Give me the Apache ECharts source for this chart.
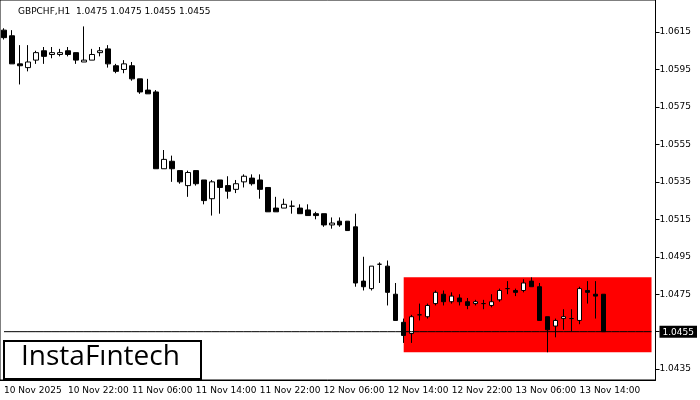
<!DOCTYPE html>
<html><head><meta charset="utf-8">
<script src="https://cdn.jsdelivr.net/npm/echarts@6/dist/echarts.min.js"></script>
<style>html,body{margin:0;padding:0;background:#fff}#c{width:700px;height:400px}</style>
</head><body><div id="c"></div>
<script>
// [open, close, low, high]
const candles = [
[1.0616,1.0612,1.0611,1.0617],[1.0613,1.0598,1.0598,1.0616],[1.0598,1.0597,1.0587,1.0608],[1.0596,1.0599,1.0594,1.0608],
[1.0600,1.0604,1.0598,1.0605],[1.0605,1.0602,1.0598,1.0607],[1.0603,1.0604,1.0601,1.0607],[1.0603,1.0604,1.0602,1.0606],
[1.0605,1.0603,1.0602,1.0607],[1.0604,1.0600,1.0598,1.0604],[1.0599,1.0600,1.0599,1.0618],[1.0600,1.0603,1.0600,1.0606],
[1.0604,1.0605,1.0602,1.0607],[1.0606,1.0598,1.0596,1.0608],[1.0597,1.0594,1.0593,1.0598],[1.0595,1.0598,1.0593,1.0600],
[1.0597,1.0590,1.0589,1.0599],[1.0590,1.0583,1.0582,1.0590],[1.0584,1.0582,1.0582,1.0590],[1.0583,1.0542,1.0542,1.0584],
[1.0542,1.0547,1.0542,1.0552],[1.0546,1.0542,1.0535,1.0549],[1.0541,1.0535,1.0534,1.0541],[1.0533,1.0540,1.0527,1.0541],
[1.0541,1.0534,1.0533,1.0541],[1.0536,1.0525,1.0523,1.0536],[1.0526,1.0535,1.0517,1.0536],[1.0536,1.0532,1.0518,1.0536],
[1.0533,1.0530,1.0526,1.0538],[1.0531,1.0534,1.0529,1.0536],[1.0535,1.0538,1.0532,1.0539],[1.0537,1.0534,1.0533,1.0539],
[1.0536,1.0531,1.0526,1.0539],[1.0532,1.0519,1.0519,1.0532],[1.0521,1.0519,1.0519,1.0527],[1.0521,1.0523,1.0521,1.0526],
[1.0522,1.0522,1.0518,1.0525],[1.0521,1.0518,1.0518,1.0523],[1.0520,1.0517,1.0517,1.0523],[1.0518,1.0517,1.0515,1.0519],
[1.0518,1.0512,1.0511,1.0518],[1.0512,1.0513,1.0510,1.0516],[1.0514,1.0512,1.0511,1.0516],[1.0514,1.0509,1.0509,1.0514],
[1.0511,1.0481,1.0479,1.0518],[1.0482,1.0479,1.0477,1.0495],[1.0478,1.0490,1.0477,1.0490],[1.0491,1.0491,1.0481,1.0492],
[1.0490,1.0476,1.0469,1.0493],[1.0475,1.0461,1.0461,1.0481],[1.0460,1.0453,1.0449,1.0462],[1.0454,1.0463,1.0449,1.0464],
[1.0464,1.0464,1.0461,1.0470],[1.0463,1.0469,1.0462,1.0470],[1.0470,1.0476,1.0469,1.0477],[1.0475,1.0471,1.0469,1.0477],
[1.0471,1.0474,1.0470,1.0476],[1.0473,1.0471,1.0469,1.0475],[1.0471,1.0469,1.0467,1.0473],[1.0470,1.0471,1.0469,1.0472],
[1.0470,1.0470,1.0467,1.0472],[1.0469,1.0471,1.0468,1.0475],[1.0472,1.0477,1.0471,1.0478],[1.0478,1.0478,1.0475,1.0482],
[1.0477,1.0476,1.0474,1.0478],[1.0477,1.0481,1.0476,1.0483],[1.0482,1.0479,1.0479,1.0484],[1.0479,1.0461,1.0461,1.0481],
[1.0463,1.0456,1.0444,1.0463],[1.0458,1.0461,1.0452,1.0462],[1.0462,1.0463,1.0456,1.0467],[1.0462,1.0462,1.0455,1.0467],
[1.0461,1.0478,1.0459,1.0479],[1.0477,1.0476,1.0470,1.0482],[1.0475,1.0474,1.0462,1.0482],[1.0475,1.0455,1.0455,1.0475]
];
const xLabels = ['10 Nov 2025','10 Nov 22:00','11 Nov 06:00','11 Nov 14:00','11 Nov 22:00','12 Nov 06:00','12 Nov 14:00','12 Nov 22:00','13 Nov 06:00','13 Nov 14:00'];
const yTicks = [1.0435,1.0455,1.0475,1.0495,1.0515,1.0535,1.0555,1.0575,1.0595,1.0615];
const zone = {from: 50, low: 1.0444, high: 1.0484};
const lastPrice = 1.0455;
const title = 'GBPCHF,H1  1.0475 1.0475 1.0455 1.0455';
const totalSlots = 82;

const cats = [];
for (let i = 0; i < totalSlots; i++) cats.push(i % 8 === 0 && xLabels[i/8] ? xLabels[i/8] : '');
const lineData = cats.map(() => lastPrice);
const chart = echarts.init(document.getElementById('c'));
const font = 'DejaVu Sans';
chart.setOption({
  animation: false,
  grid: {left: 0, right: 40, top: 0, bottom: 20, show: true, borderColor: '#000', borderWidth: 1},
  xAxis: {type: 'category', data: cats, boundaryGap: true,
    axisLine: {lineStyle: {color: '#000'}},
    axisTick: {interval: (i, v) => v !== '', length: 4, lineStyle: {color: '#000'}, alignWithLabel: true},
    axisLabel: {interval: (i, v) => v !== '', hideOverlap: false, align: 'left', color: '#000', fontSize: 9, fontFamily: font, margin: 6},
    splitLine: {show: false}},
  yAxis: {type: 'value', position: 'right', min: 1.04292, max: 1.06321,
    axisLine: {show: true, lineStyle: {color: '#000'}},
    axisTick: {show: true, length: 4, customValues: yTicks, lineStyle: {color: '#000'}},
    axisLabel: {customValues: yTicks, color: '#000', fontSize: 9, fontFamily: font, margin: 4,
      formatter: v => Math.abs(v - lastPrice) < 1e-6 ? '{hl|' + v.toFixed(4) + '}' : v.toFixed(4),
      rich: {hl: {backgroundColor: '#000', color: '#fff', fontSize: 9, fontFamily: font, padding: [2, 3, 1, 3]}}},
    splitLine: {show: false}},
  graphic: [
    {type: 'text', left: 18, top: 7, style: {text: title, fontSize: 9, fontFamily: font, fill: '#000'}},
    {type: 'rect', left: 3, top: 340, shape: {width: 197, height: 38}, style: {fill: '#fff', stroke: '#000', lineWidth: 2}, z: 100},
    {type: 'text', left: 21, top: 343, style: {text: 'InstaFıntech', fontSize: 28, fontWeight: 500, fontFamily: 'Open Sans', fill: '#000'}, z: 101}
  ],
  series: [{
    type: 'candlestick', data: candles, barWidth: 5, z: 3,
    itemStyle: {color: '#fff', color0: '#000', borderColor: '#000', borderColor0: '#000', borderWidth: 1},
    markArea: {silent: true, itemStyle: {color: '#ff0000', opacity: 1},
      data: [[{xAxis: zone.from, yAxis: zone.high}, {xAxis: totalSlots - 1, yAxis: zone.low}]]}
  }, {
    type: 'line', data: lineData, symbol: 'none', silent: true, z: 4,
    lineStyle: {color: '#000', width: 1}
  }]
});
</script></body></html>
